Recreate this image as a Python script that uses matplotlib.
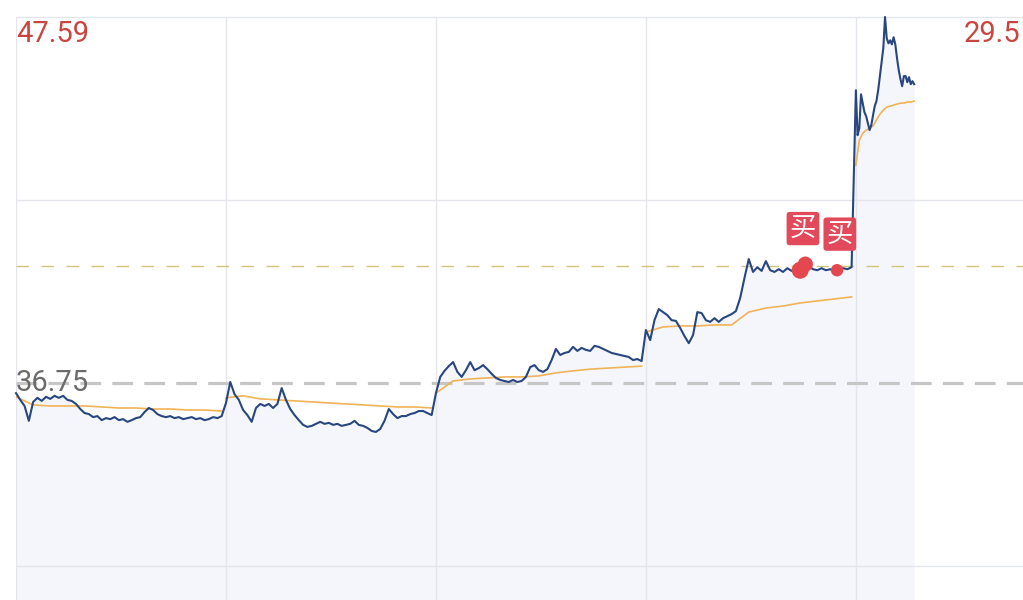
import matplotlib.pyplot as plt

# 五日分时数据 (day1-day4 每5分钟一个点, day5 每2分钟一个点)
prev_close = 36.75
price_top = 47.59
cost_price = 40.22
pct_label = "29.5"

day1 = [36.45, 36.25, 36.07, 35.63, 36.19, 36.31, 36.22, 36.34, 36.28, 36.37,
        36.31, 36.37, 36.25, 36.22, 36.13, 35.98, 35.86, 35.83, 35.74, 35.77,
        35.65, 35.71, 35.68, 35.74, 35.65, 35.68, 35.60, 35.65, 35.71, 35.74,
        35.89, 36.01, 35.95, 35.83, 35.77, 35.74, 35.77, 35.71, 35.74, 35.68,
        35.71, 35.74, 35.68, 35.71, 35.65, 35.68, 35.74, 35.71, 35.77]
day2 = [36.16, 36.78, 36.42, 36.25, 35.95, 35.80, 35.60, 36.01, 36.13, 36.07,
        36.13, 36.01, 36.13, 36.60, 36.25, 35.98, 35.80, 35.65, 35.51, 35.45,
        35.48, 35.54, 35.60, 35.54, 35.57, 35.51, 35.54, 35.48, 35.51, 35.54,
        35.63, 35.51, 35.48, 35.42, 35.33, 35.30, 35.39, 35.63, 35.98, 35.83,
        35.71, 35.77, 35.77, 35.83, 35.86, 35.92, 35.92, 35.86, 35.80]
day3 = [36.45, 36.93, 37.11, 37.25, 37.37, 37.08, 36.93, 37.13, 37.37, 37.13,
        37.19, 37.28, 37.16, 37.02, 36.90, 36.84, 36.81, 36.78, 36.84, 36.78,
        36.81, 36.93, 37.22, 37.28, 37.13, 37.08, 37.16, 37.43, 37.76, 37.58,
        37.64, 37.67, 37.82, 37.70, 37.79, 37.73, 37.70, 37.85, 37.82, 37.76,
        37.70, 37.64, 37.61, 37.58, 37.55, 37.52, 37.43, 37.46, 37.40]
day4 = [38.32, 38.02, 38.61, 38.94, 38.85, 38.76, 38.61, 38.59, 38.38, 38.14,
        37.93, 38.17, 38.85, 38.82, 38.61, 38.56, 38.67, 38.56, 38.67, 38.73,
        38.79, 38.88, 39.27, 39.86, 40.42, 40.04, 40.18, 40.07, 40.36, 40.09,
        40.04, 40.12, 40.04, 40.15, 40.07, 40.12, 40.21, 40.27, 40.21, 40.12,
        40.09, 40.15, 40.09, 40.12, 40.07, 40.09, 40.15, 40.12, 40.18]
day5 = [45.42, 44.09, 44.30, 45.30, 45.04, 44.77, 44.65, 44.45, 44.24, 44.39,
        44.68, 44.95, 45.10, 45.42, 45.84, 46.25, 46.67, 47.59, 46.96, 46.81,
        46.90, 46.78, 46.99, 46.78, 46.37, 46.02, 45.75, 45.54, 45.84, 45.84,
        45.66, 45.81, 45.60, 45.69, 45.60]

# 均价线 (day1-day4 每20分钟, day5 每4分钟)
avg1 = [36.34, 36.10, 36.07, 36.07, 36.07, 36.04, 36.01, 36.01, 35.98, 35.98, 35.95, 35.95, 35.92]
avg2 = [36.31, 36.37, 36.28, 36.25, 36.22, 36.19, 36.16, 36.13, 36.10, 36.07, 36.04, 36.04, 36.01]
avg3 = [36.45, 36.81, 36.87, 36.90, 36.93, 36.93, 36.96, 37.05, 37.11, 37.16, 37.19, 37.22, 37.25]
avg4 = [38.26, 38.41, 38.44, 38.44, 38.47, 38.47, 38.85, 38.97, 39.03, 39.12, 39.18, 39.24, 39.30]
avg5 = [43.20, 43.94, 44.15, 44.24, 44.30, 44.36, 44.54, 44.71, 44.83, 44.92, 44.95, 44.98,
        45.01, 45.04, 45.04, 45.07, 45.07, 45.10]

# 买入点 (第4天的分钟, 价格)
buy_minutes = [180, 186, 223]
buy_prices = [40.09, 40.27, 40.09]
buy_sizes = [150, 120, 80]
buy_labels = [(0, "买"), (2, "买")]

day_len = 245
price_days = [(day1, 5), (day2, 5), (day3, 5), (day4, 5), (day5, 2)]
avg_days = [(avg1, 20), (avg2, 20), (avg3, 20), (avg4, 20), (avg5, 4)]

xs, ys = [], []
for d, (vals, step) in enumerate(price_days):
    xs += [d * day_len + step * i for i in range(len(vals))]
    ys += vals

ybottom = prev_close - (600 - 383) * (price_top - prev_close) / 366
red = '#c9453f'

fig = plt.figure(figsize=(10.23, 6.0), dpi=100)
ax = fig.add_axes([16 / 1023, 0, 1007 / 1023, 583 / 600])
ax.set_xlim(0, 1175)
ax.set_ylim(ybottom, price_top)
ax.axis('off')

ax.fill_between(xs, ys, ybottom, color='#f4f6fb', lw=0, zorder=1)

# 网格
grid_c = '#e4e6ec'
for yv in [price_top, (price_top + prev_close) / 2, prev_close - (price_top - prev_close) / 2]:
    ax.axhline(yv, color=grid_c, lw=1, zorder=1.5, clip_on=False)
for d in range(5):
    ax.axvline(d * day_len, color=grid_c, lw=1, zorder=1.5)

ax.axhline(prev_close, color='#c6c6c6', lw=2.3, ls=(0, (6.5, 3.5)), zorder=2)
ax.axhline(cost_price, color='#d2c47a', lw=1, ls=(0, (9, 9)), zorder=2)

for d, (vals, step) in enumerate(avg_days):
    ax.plot([d * day_len + step * i for i in range(len(vals))], vals,
            color='#f0b357', lw=1.2, zorder=3)

ax.plot(xs, ys, color='#28467f', lw=1.5, zorder=4, clip_on=False)

bx = [3 * day_len + m for m in buy_minutes]
ax.scatter(bx, buy_prices, s=buy_sizes, color='#e5474f', zorder=5, lw=0)
for i, lab in buy_labels:
    ax.annotate(lab, xy=(bx[i], buy_prices[i]), xytext=(2, 30 if i == 0 else 26),
                textcoords='offset points', ha='center', va='center',
                color='white', fontsize=19, family=['Noto Sans CJK SC'], zorder=6,
                bbox=dict(boxstyle='round,pad=0.12,rounding_size=0.12',
                          fc='#e24a5b', ec='none'))

num_font = ['Roboto', 'DejaVu Sans']
fig.text(16 / 1023, 1 - 20 / 600, f"{price_top:.2f}", color=red, fontsize=21,
         family=num_font, ha='left', va='top')
fig.text(1020 / 1023, 1 - 20 / 600, pct_label, color=red, fontsize=21,
         family=num_font, ha='right', va='top')
ax.text(0, prev_close, f"{prev_close:.2f}", color='#6b6b6b', fontsize=21,
        family=num_font, ha='left', va='center', zorder=6)

fig.savefig('out.png', dpi=100)
